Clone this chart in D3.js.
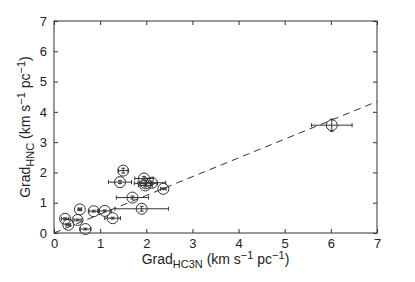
<!DOCTYPE html>
<html>
<head>
<meta charset="utf-8">
<script src="https://cdn.jsdelivr.net/npm/d3@7"></script>
<style>
  body { margin: 0; background: #fff; }
  text { font-family: "Liberation Sans", Arial, sans-serif; fill: #222; }
</style>
</head>
<body>
<div id="chart"></div>
<script>
const gradHC3N = [0.24, 0.31, 0.51, 0.56, 0.68, 0.86, 1.10, 1.27, 1.43, 1.50, 1.70, 1.90, 1.95, 1.98, 2.12, 1.99, 2.37, 6.02];
const gradHNC  = [0.47, 0.27, 0.43, 0.78, 0.13, 0.72, 0.73, 0.49, 1.68, 2.06, 1.17, 0.80, 1.80, 1.57, 1.66, 1.64, 1.46, 3.56];
const errHC3N  = [0.08, 0.05, 0.08, 0.04, 0.12, 0.10, 0.15, 0.17, 0.25, 0.10, 0.35, 0.58, 0.20, 0.15, 0.30, 0.25, 0.06, 0.44];
const errHNC   = [0.03, 0.03, 0.03, 0.04, 0.03, 0.03, 0.03, 0.03, 0.05, 0.08, 0.05, 0.08, 0.06, 0.05, 0.05, 0.08, 0.03, 0.20];
const fitX = [0, 7];
const fitY = [0, 4.34];
const ticks = [0, 1, 2, 3, 4, 5, 6, 7];

const width = 415, height = 282;
const margin = { top: 21, right: 38, bottom: 49, left: 54 };
const w = width - margin.left - margin.right;
const h = height - margin.top - margin.bottom;
const ink = '#333';

const svg = d3.select('#chart').append('svg')
  .attr('width', width)
  .attr('height', height);

const g = svg.append('g').attr('transform', `translate(${margin.left},${margin.top})`);

const x = d3.scaleLinear().domain([0, 7]).range([0, w]);
const y = d3.scaleLinear().domain([0, 7]).range([h, 0]);

// axes, ticks inward on all four sides
const styleAxis = sel => {
  sel.select('.domain').remove();
  sel.selectAll('.tick line').attr('stroke', ink);
  sel.selectAll('.tick text').style('font-size', '13px').attr('fill', '#222');
};

g.append('g').attr('transform', `translate(0,${h})`)
  .call(d3.axisBottom(x).tickValues(ticks).tickSizeInner(-4).tickSizeOuter(0).tickPadding(6).tickFormat(d3.format('d')))
  .call(styleAxis);
g.append('g')
  .call(d3.axisLeft(y).tickValues(ticks).tickSizeInner(-4).tickSizeOuter(0).tickPadding(7).tickFormat(d3.format('d')))
  .call(styleAxis);
g.append('g')
  .call(d3.axisTop(x).tickValues(ticks).tickSizeInner(-4).tickSizeOuter(0).tickFormat(''))
  .call(styleAxis);
g.append('g').attr('transform', `translate(${w},0)`)
  .call(d3.axisRight(y).tickValues(ticks).tickSizeInner(-4).tickSizeOuter(0).tickFormat(''))
  .call(styleAxis);

g.append('rect')
  .attr('width', w).attr('height', h)
  .attr('fill', 'none').attr('stroke', ink).attr('stroke-width', 1);

// fit line
g.append('path')
  .datum(fitX.map((v, i) => [v, fitY[i]]))
  .attr('d', d3.line().x(d => x(d[0])).y(d => y(d[1])))
  .attr('fill', 'none').attr('stroke', ink).attr('stroke-width', 1)
  .attr('stroke-dasharray', '7,5');

const pts = gradHC3N.map((v, i) => ({ x: v, y: gradHNC[i], ex: errHC3N[i], ey: errHNC[i] }));
const cap = 2;

const pg = g.selectAll('.pt').data(pts).enter().append('g').attr('class', 'pt');

pg.append('line')
  .attr('x1', d => x(d.x - d.ex)).attr('x2', d => x(d.x + d.ex))
  .attr('y1', d => y(d.y)).attr('y2', d => y(d.y))
  .attr('stroke', ink);
pg.append('line')
  .attr('x1', d => x(d.x)).attr('x2', d => x(d.x))
  .attr('y1', d => y(d.y - d.ey)).attr('y2', d => y(d.y + d.ey))
  .attr('stroke', ink);
// caps
pg.each(function(d) {
  const s = d3.select(this);
  [d.x - d.ex, d.x + d.ex].forEach(v => s.append('line')
    .attr('x1', x(v)).attr('x2', x(v))
    .attr('y1', y(d.y) - cap).attr('y2', y(d.y) + cap).attr('stroke', ink));
  [d.y - d.ey, d.y + d.ey].forEach(v => s.append('line')
    .attr('x1', x(d.x) - cap).attr('x2', x(d.x) + cap)
    .attr('y1', y(v)).attr('y2', y(v)).attr('stroke', ink));
});
pg.append('circle')
  .attr('cx', d => x(d.x)).attr('cy', d => y(d.y)).attr('r', 5.5)
  .attr('fill', 'none').attr('stroke', ink).attr('stroke-width', 1);

// axis labels
const addLabel = (sel, sub) => {
  sel.append('tspan').text('Grad');
  sel.append('tspan').attr('dy', 4).style('font-size', '11px').text(sub);
  sel.append('tspan').attr('dy', -4).text(' (km s');
  sel.append('tspan').attr('dy', -5).style('font-size', '11px').text('−1');
  sel.append('tspan').attr('dy', 5).text(' pc');
  sel.append('tspan').attr('dy', -5).style('font-size', '11px').text('−1');
  sel.append('tspan').attr('dy', 5).text(')');
};

svg.append('text')
  .attr('x', margin.left + w / 2).attr('y', 264)
  .attr('text-anchor', 'middle').style('font-size', '14px')
  .call(addLabel, 'HC3N');

svg.append('text')
  .attr('transform', `translate(30,${margin.top + h / 2}) rotate(-90)`)
  .attr('text-anchor', 'middle').style('font-size', '14px')
  .call(addLabel, 'HNC');
</script>
</body>
</html>
